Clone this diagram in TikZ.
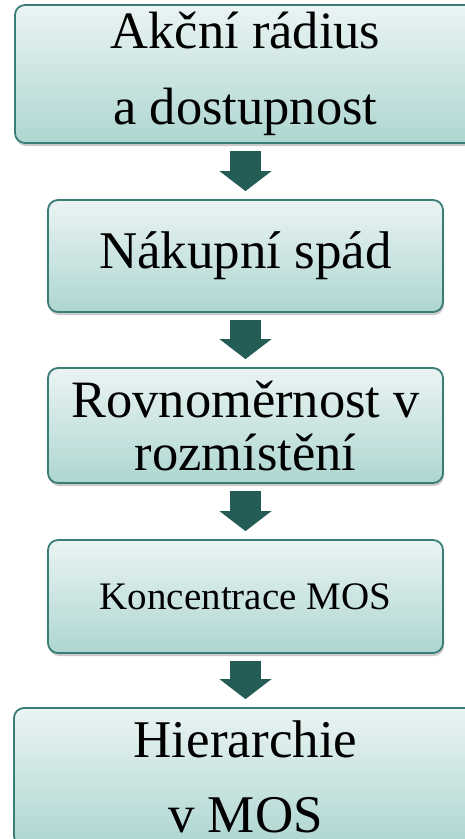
\documentclass[tikz,border=0pt]{standalone}
\usepackage{fontspec}
\setmainfont{Liberation Serif}
\usepackage{tikz}
\usetikzlibrary{arrows.meta,shadows}

\definecolor{boxtop}{HTML}{EAF4F3}
\definecolor{boxbot}{HTML}{AED6D1}
\definecolor{boxline}{HTML}{3A7D76}
\definecolor{arrowfill}{HTML}{245C56}

\begin{document}
\begin{tikzpicture}[
        x=1pt,y=-1pt,
        stage/.style={draw=boxline,line width=1.8pt,rounded corners=10pt,top color=boxtop,bottom color=boxbot,
            drop shadow={shadow xshift=1pt,shadow yshift=-3pt,opacity=0.35,fill=black!60},
            align=center,inner sep=0pt},
        flow/.style={arrowfill,line width=31pt,-{Triangle[length=20pt,width=51pt]},shorten <=7pt,shorten >=8pt}
    ]
    \useasboundingbox (0,0) rectangle (465,839);
    \node[stage,minimum width=461pt,minimum height=138pt,font=\fontsize{52.5}{76}\selectfont] (akcni) at (245.5,74) {Akční rádius\\a dostupnost};
    \node[stage,minimum width=395pt,minimum height=112pt,font=\fontsize{53}{60}\selectfont] (spad) at (245.5,256) {Nákupní spád};
    \node[stage,minimum width=395pt,minimum height=115pt,font=\fontsize{52.5}{53}\selectfont] (rovnom) at (245.5,425.5) {Rovnoměrnost v\\rozmístění};
    \node[stage,minimum width=395pt,minimum height=113pt,font=\fontsize{39}{44}\selectfont] (koncent) at (245.5,596.5) {Koncentrace MOS};
    \node[stage,minimum width=463pt,minimum height=138pt,font=\fontsize{53}{75}\selectfont] (hier) at (245.5,777) {Hierarchie\\v MOS};
    \draw[flow] (akcni.south) -- (spad.north);
    \draw[flow] (spad.south) -- (rovnom.north);
    \draw[flow] (rovnom.south) -- (koncent.north);
    \draw[flow] (koncent.south) -- (hier.north);
\end{tikzpicture}
\end{document}
